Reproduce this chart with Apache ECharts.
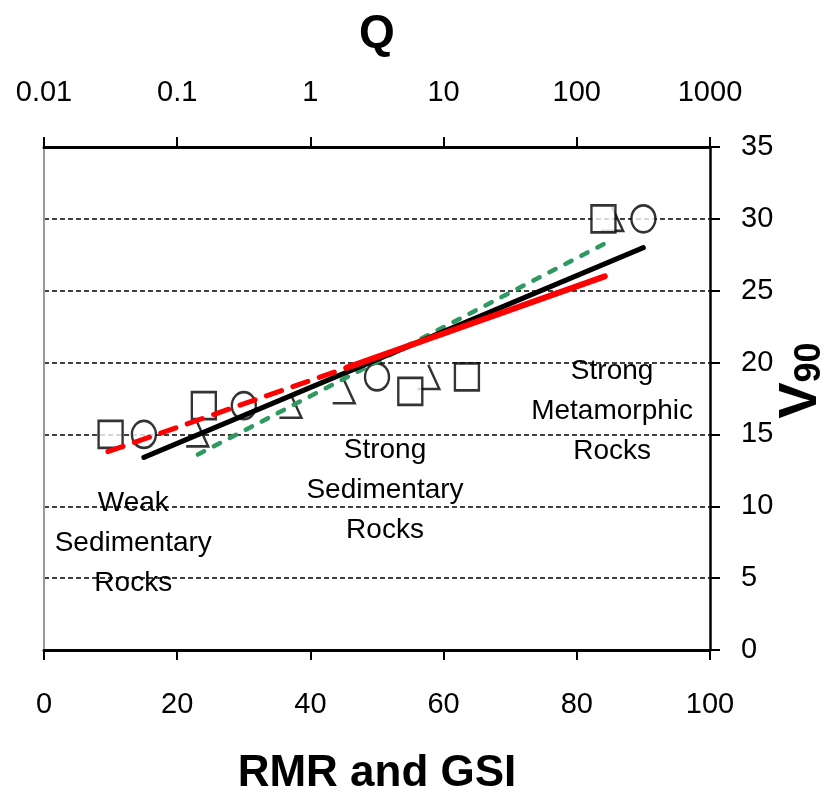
<!DOCTYPE html>
<html>
<head>
<meta charset="utf-8">
<style>
  html, body { margin: 0; padding: 0; background: #fff; }
  #chart { width: 826px; height: 795px; }
</style>
<script src="https://cdn.jsdelivr.net/npm/echarts@6/dist/echarts.min.js"></script>
</head>
<body>
<div id="chart"></div>
<script>
// ---- data ----
var squarePoints   = [[10, 15], [24, 17], [55, 18], [63.5, 19], [84, 30]];
var circlePoints   = [[15, 15], [30, 17], [50, 19], [90, 30]];
var trianglePoints = [[23, 15], [37, 17], [45, 18], [57.7, 19], [85.3, 30]];

var blackLine     = [[15, 13.4], [90, 28.0]];
var redDashedLine = [[9.6, 13.8], [45.5, 19.65]];
var redSolidLine  = [[45.5, 19.65], [84.2, 26.0]];
var greenLine     = [[23.1, 13.6], [85.1, 28.5]];

var rockLabels = [
  [13.4, 7.45, 'Weak\nSedimentary\nRocks'],
  [51.2, 11.1, 'Strong\nSedimentary\nRocks'],
  [85.3, 16.6, 'Strong\nMetamorphic\nRocks']
];

var xTicks = [0, 20, 40, 60, 80, 100];
var qRange = [0.01, 1000];
var yRange = [0, 35];

var chart = echarts.init(document.getElementById('chart'), null, { renderer: 'canvas' });

var BASE = "Arial";

var markerStyle = { color: '#fff', borderColor: '#000', borderWidth: 2.5 };

var option = {
  animation: false,
  backgroundColor: '#fff',
  grid: { left: 44, right: 116, top: 147, bottom: 145, containLabel: false, outerBoundsMode: 'none' },
  xAxis: [
    {
      type: 'value', position: 'bottom',
      min: xTicks[0], max: xTicks[xTicks.length - 1], interval: 20,
      axisLine: { show: true, onZero: false, lineStyle: { color: '#000', width: 3 } },
      axisTick: { show: true, length: 10, lineStyle: { color: '#000', width: 2 } },
      axisLabel: { fontSize: 29, fontFamily: BASE, color: '#000', margin: 40 },
      splitLine: { show: false },
      name: 'RMR and GSI', nameLocation: 'middle', nameGap: 102, nameMoveOverlap: false,
      nameTextStyle: { fontSize: 44, fontWeight: 'bold', fontFamily: BASE, color: '#000' }
    },
    {
      type: 'log', position: 'top', logBase: 10,
      min: qRange[0], max: qRange[1],
      axisLine: { show: true, onZero: false, lineStyle: { color: '#000', width: 3 } },
      axisTick: { show: true, length: 10, lineStyle: { color: '#000', width: 2 } },
      axisLabel: {
        fontSize: 29, fontFamily: BASE, color: '#000', margin: 40,
        formatter: function (v) { return String(parseFloat(Number(v).toPrecision(6))); }
      },
      minorTick: { show: false },
      splitLine: { show: false },
      name: 'Q', nameLocation: 'middle', nameGap: 90, nameMoveOverlap: false,
      nameTextStyle: { fontSize: 46, fontWeight: 'bold', fontFamily: BASE, color: '#000' }
    }
  ],
  yAxis: [
    {
      type: 'value', position: 'right',
      min: yRange[0], max: yRange[1], interval: 5,
      axisLine: { show: true, onZero: false, lineStyle: { color: '#000', width: 2.5 } },
      axisTick: { show: true, length: 10, lineStyle: { color: '#000', width: 2 } },
      axisLabel: { fontSize: 29, fontFamily: BASE, color: '#000', margin: 31 },
      splitLine: { show: true, lineStyle: { color: '#000', width: 1.5, type: [5, 3] } },
      name: '{v|V}{s|90}', nameLocation: 'middle', nameGap: 58, nameRotate: 90, nameMoveOverlap: false,
      nameTextStyle: {
        color: '#000', fontFamily: BASE, padding: [0, 0, 0, 36],
        rich: {
          v: { fontSize: 54, fontWeight: 'bold', fontFamily: BASE, lineHeight: 60, verticalAlign: 'bottom', color: '#000' },
          s: { fontSize: 36, fontWeight: 'bold', fontFamily: BASE, lineHeight: 42, verticalAlign: 'bottom', color: '#000' }
        }
      }
    },
    {
      type: 'value', position: 'left',
      min: yRange[0], max: yRange[1],
      axisLine: { show: true, onZero: false, lineStyle: { color: '#999', width: 2 } },
      axisTick: { show: false }, axisLabel: { show: false }, splitLine: { show: false }
    }
  ],
  series: [
    {
      name: 'triangles', type: 'scatter', data: trianglePoints, z: 2,
      symbol: 'path://M5,0 L10,10 L0,10', symbolSize: [22, 24],
      itemStyle: { color: 'rgba(0,0,0,0)', borderColor: '#000', borderWidth: 2.5 }
    },
    {
      name: 'squares', type: 'scatter', data: squarePoints, z: 3,
      symbol: 'rect', symbolSize: [24, 27], itemStyle: markerStyle
    },
    {
      name: 'circles', type: 'scatter', data: circlePoints, z: 3,
      symbol: 'circle', symbolSize: [24, 27], itemStyle: markerStyle
    },
    {
      name: 'green', type: 'line', data: greenLine, z: 4, symbol: 'none',
      lineStyle: { color: '#2e9a62', width: 4.5, type: [7, 11], cap: 'round' }
    },
    {
      name: 'black', type: 'line', data: blackLine, z: 5, symbol: 'none',
      lineStyle: { color: '#000', width: 5, cap: 'round' }
    },
    {
      name: 'redDashed', type: 'line', data: redDashedLine, z: 6, symbol: 'none',
      lineStyle: { color: '#ff0000', width: 5, type: [16, 12], cap: 'round' }
    },
    {
      name: 'redSolid', type: 'line', data: redSolidLine, z: 6, symbol: 'none',
      lineStyle: { color: '#ff0000', width: 6, cap: 'round' }
    },
    {
      name: 'labels', type: 'scatter', data: rockLabels, z: 7,
      symbol: 'circle', symbolSize: 1, itemStyle: { color: 'rgba(0,0,0,0)' },
      label: {
        show: true, position: 'inside', color: '#000', opacity: 1,
        textBorderWidth: 0, textBorderColor: 'transparent',
        fontSize: 28, lineHeight: 40, fontFamily: BASE, align: 'center', verticalAlign: 'middle',
        formatter: function (p) { return p.data[2]; }
      }
    }
  ]
};
chart.setOption(option);
</script>
</body>
</html>
